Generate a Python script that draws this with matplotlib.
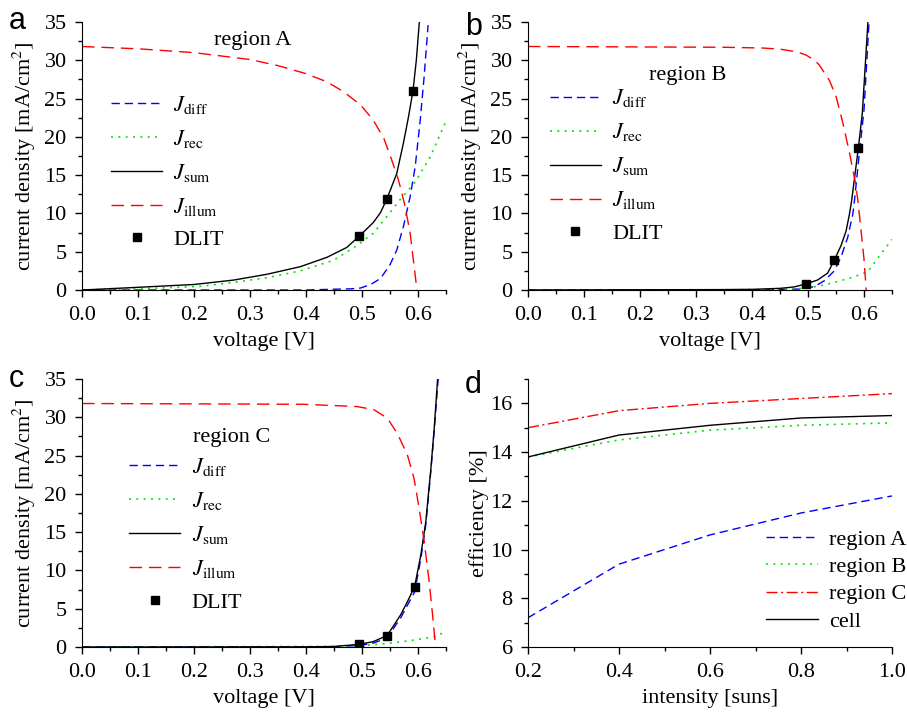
"""Dark J-V curves of three cell regions and efficiency vs. illumination intensity."""

import matplotlib

matplotlib.use("Agg")
import matplotlib.pyplot as plt
from matplotlib.ticker import MultipleLocator

plt.rcParams["font.family"] = ["Liberation Serif", "DejaVu Serif"]
plt.rcParams["mathtext.fontset"] = "stix"
plt.rcParams["font.size"] = 16

BLUE = "#0000ff"
GREEN = "#00e600"
RED = "#ff0000"

# ---- region A ----
A_diff_v = [0.0, 0.40, 0.449, 0.48, 0.497, 0.515, 0.533, 0.55, 0.562, 0.574, 0.586, 0.595, 0.604, 0.611, 0.618]
A_diff_j = [0.0, 0.0, 0.1, 0.15, 0.25, 0.7, 1.5, 3.3, 5.2, 8.3, 12.2, 16.1, 22.2, 27.9, 34.6]
A_rec_v = [0.0, 0.1, 0.211, 0.271, 0.33, 0.39, 0.45, 0.491, 0.52, 0.5445, 0.568, 0.595, 0.622, 0.652]
A_rec_j = [0.0, 0.15, 0.48, 1.0, 1.6, 2.5, 3.9, 5.8, 7.4, 9.6, 11.8, 14.1, 17.4, 22.4]
A_sum_v = [0.0, 0.1, 0.2, 0.271, 0.33, 0.39, 0.4375, 0.473, 0.4946, 0.52, 0.533, 0.5445, 0.562, 0.574, 0.583, 0.591, 0.597, 0.6024]
A_sum_j = [0.0, 0.35, 0.72, 1.3, 2.05, 3.05, 4.27, 5.57, 7.0, 8.8, 10.1, 11.9, 15.2, 19.2, 22.6, 26.0, 30.0, 35.0]
A_ill_v = [0.0, 0.1, 0.2, 0.3, 0.35, 0.398, 0.437, 0.467, 0.497, 0.52, 0.539, 0.553, 0.565, 0.571, 0.577, 0.586, 0.596, 0.598]
A_ill_j = [31.8, 31.5, 31.0, 30.1, 29.3, 28.3, 27.2, 25.9, 24.2, 22.2, 19.8, 17.0, 14.4, 12.7, 10.9, 7.4, 1.3, 0.0]
A_dlit_v = [0.4946, 0.5445, 0.591]
A_dlit_j = [7.0, 11.9, 26.0]

# ---- region B ----
B_diff_v = [0.0, 0.40, 0.45, 0.487, 0.511, 0.529, 0.547, 0.559, 0.571, 0.58, 0.583, 0.591, 0.60, 0.609]
B_diff_j = [0.0, 0.02, 0.06, 0.13, 0.44, 1.2, 2.5, 4.3, 6.9, 9.9, 11.7, 17.4, 23.5, 35.0]
B_rec_v = [0.0, 0.40, 0.463, 0.499, 0.523, 0.553, 0.583, 0.607, 0.627, 0.65]
B_rec_j = [0.0, 0.04, 0.1, 0.26, 0.57, 1.1, 1.74, 2.4, 4.4, 6.6]
B_sum_v = [0.0, 0.343, 0.403, 0.451, 0.475, 0.496, 0.517, 0.535, 0.547, 0.559, 0.568, 0.574, 0.578, 0.590, 0.597, 0.607]
B_sum_j = [0.0, 0.05, 0.09, 0.22, 0.4, 0.78, 1.3, 2.2, 3.9, 5.8, 7.7, 9.9, 11.7, 18.6, 23.1, 35.0]
B_ill_v = [0.0, 0.35, 0.42, 0.45, 0.48, 0.496, 0.51, 0.52, 0.538, 0.55, 0.561, 0.573, 0.585, 0.589, 0.594, 0.60, 0.603, 0.604]
B_ill_j = [31.8, 31.7, 31.6, 31.45, 31.1, 30.7, 30.1, 29.4, 27.4, 25.3, 22.2, 18.3, 13.9, 11.7, 8.3, 4.0, 1.0, 0.0]
B_dlit_v = [0.496, 0.547, 0.590]
B_dlit_j = [0.78, 3.9, 18.6]

# ---- region C ----
C_diff_v = [0.0, 0.45, 0.495, 0.52, 0.545, 0.569, 0.594, 0.605, 0.614, 0.623, 0.629, 0.636]
C_diff_j = [0.0, 0.03, 0.2, 0.5, 1.2, 3.8, 7.2, 11.5, 16.0, 23.0, 28.3, 35.0]
C_rec_v = [0.0, 0.45, 0.497, 0.545, 0.593, 0.629, 0.65]
C_rec_j = [0.0, 0.08, 0.17, 0.45, 0.9, 1.35, 2.0]
C_sum_v = [0.0, 0.40, 0.45, 0.495, 0.52, 0.545, 0.569, 0.581, 0.594, 0.605, 0.614, 0.623, 0.629, 0.635]
C_sum_j = [0.0, 0.02, 0.07, 0.35, 0.7, 1.5, 4.2, 5.9, 7.9, 12.0, 16.4, 23.3, 28.6, 35.0]
C_ill_v = [0.0, 0.395, 0.491, 0.521, 0.545, 0.563, 0.581, 0.593, 0.602, 0.611, 0.62, 0.626, 0.631, 0.632]
C_ill_j = [31.8, 31.7, 31.4, 31.0, 29.9, 27.9, 25.1, 22.0, 18.1, 13.8, 8.5, 4.2, 0.3, 0.0]
C_dlit_v = [0.495, 0.545, 0.594]
C_dlit_j = [0.35, 1.5, 7.9]

# ---- efficiency vs intensity ----
intensity = [0.2, 0.4, 0.6, 0.8, 1.0]
eff_A = [7.2, 9.4, 10.6, 11.5, 12.2]
eff_B = [13.8, 14.5, 14.9, 15.1, 15.2]
eff_C = [15.0, 15.7, 16.0, 16.2, 16.4]
eff_cell = [13.8, 14.7, 15.1, 15.4, 15.5]

W, H = 907, 712


def px_axes(fig, left, top, right, bottom):
    return fig.add_axes([left / W, 1 - bottom / H, (right - left) / W, (bottom - top) / H])


def style_axes(ax):
    for s in ("top", "right"):
        ax.spines[s].set_visible(False)
    ax.tick_params(which="major", direction="out", length=5, width=1, labelsize=16)
    ax.tick_params(which="minor", direction="out", length=3, width=1)
    ax.tick_params(axis="x", which="major", pad=6.5)
    ax.tick_params(axis="y", which="major", pad=6)


def jv_panel(ax, data, region, text_xy, leg_anchor):
    dv, dj, rv, rj, sv, sj, iv, ij, pv, pj = data
    l1, = ax.plot(dv, dj, color=BLUE, lw=1.0, dashes=(6, 3.5))
    l2, = ax.plot(rv, rj, color=GREEN, lw=1.2, dashes=(1.2, 3.2))
    l3, = ax.plot(sv, sj, color="black", lw=1.0)
    l4, = ax.plot(iv, ij, color=RED, lw=1.0, dashes=(9, 5))
    l5, = ax.plot(pv, pj, "s", color="black", ms=6, ls="none")
    ax.set_xlim(0, 0.65)
    ax.set_ylim(0, 35)
    ax.xaxis.set_major_locator(MultipleLocator(0.1))
    ax.xaxis.set_minor_locator(MultipleLocator(0.05))
    ax.yaxis.set_major_locator(MultipleLocator(5))
    ax.yaxis.set_minor_locator(MultipleLocator(2.5))
    ax.xaxis.set_major_formatter(plt.FuncFormatter(lambda x, p: f"{x:.1f}"))
    style_axes(ax)
    ax.set_xlabel("voltage [V]", fontsize=16, labelpad=5)
    ax.set_ylabel("current density [mA/cm$^2$]", fontsize=16, labelpad=4.5)
    ax.text(*text_xy, f"region {region}", transform=ax.transAxes, fontsize=16, ha="center", va="center")
    ax.legend(
        [l1, l2, l3, l4, l5],
        [r"$J_\mathrm{diff}$", r"$J_\mathrm{rec}$", r"$J_\mathrm{sum}$", r"$J_\mathrm{illum}$", "DLIT"],
        loc="upper left", bbox_to_anchor=leg_anchor, frameon=False, fontsize=16,
        handlelength=2.3, handletextpad=0.5, labelspacing=0.54, borderpad=0,
        borderaxespad=0, numpoints=1, markerscale=0.9,
    )


fig = plt.figure(figsize=(W / 100, H / 100), dpi=100)

ax_a = px_axes(fig, 82, 22, 446, 290)
jv_panel(ax_a, (A_diff_v, A_diff_j, A_rec_v, A_rec_j, A_sum_v, A_sum_j,
                A_ill_v, A_ill_j, A_dlit_v, A_dlit_j), "A", (0.47, 0.93), (0.08, 0.733))

ax_b = px_axes(fig, 528, 22, 892, 290)
jv_panel(ax_b, (B_diff_v, B_diff_j, B_rec_v, B_rec_j, B_sum_v, B_sum_j,
                B_ill_v, B_ill_j, B_dlit_v, B_dlit_j), "B", (0.44, 0.80), (0.06, 0.756))

ax_c = px_axes(fig, 82, 379, 446, 647)
jv_panel(ax_c, (C_diff_v, C_diff_j, C_rec_v, C_rec_j, C_sum_v, C_sum_j,
                C_ill_v, C_ill_j, C_dlit_v, C_dlit_j), "C", (0.41, 0.78), (0.13, 0.712))

ax_d = px_axes(fig, 528, 379, 892, 647)
ax_d.plot(intensity, eff_A, color=BLUE, lw=1.0, dashes=(6, 3.5), label="region A")
ax_d.plot(intensity, eff_B, color=GREEN, lw=1.2, dashes=(1.2, 3.2), label="region B")
ax_d.plot(intensity, eff_C, color=RED, lw=1.0, dashes=(8, 2.5, 1.5, 2.5), label="region C")
ax_d.plot(intensity, eff_cell, color="black", lw=1.0, label="cell")
ax_d.set_xlim(0.2, 1.0)
ax_d.set_ylim(6, 17)
ax_d.xaxis.set_major_locator(MultipleLocator(0.2))
ax_d.xaxis.set_minor_locator(MultipleLocator(0.1))
ax_d.yaxis.set_major_locator(MultipleLocator(2))
ax_d.yaxis.set_minor_locator(MultipleLocator(1))
style_axes(ax_d)
ax_d.set_xlabel("intensity [suns]", fontsize=16, labelpad=5)
ax_d.set_ylabel("efficiency [%]", fontsize=16, labelpad=1)
ax_d.legend(loc="upper left", bbox_to_anchor=(0.655, 0.439), frameon=False, fontsize=16,
            handlelength=2.3, handletextpad=0.5, labelspacing=0.3, borderpad=0, borderaxespad=0)

for letter, x, y in [("a", 9, 29), ("b", 465, 35), ("c", 9, 387), ("d", 465, 393)]:
    fig.text(x / W, 1 - y / H, letter, fontsize=22, family="Liberation Sans", ha="left", va="baseline")

fig.savefig("out.png", dpi=100)
